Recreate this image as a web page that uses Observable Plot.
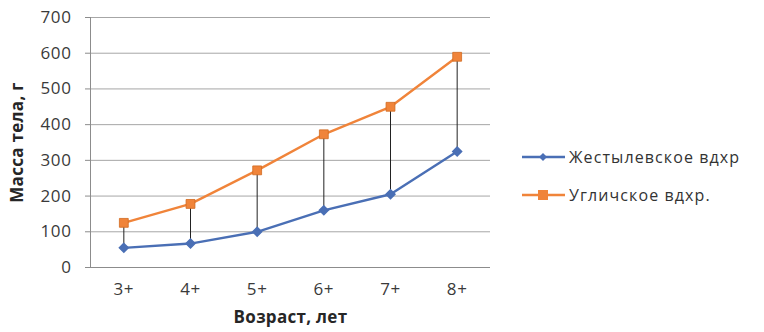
<!DOCTYPE html>
<html><head><meta charset="utf-8">
<script src="https://cdn.jsdelivr.net/npm/d3@7"></script>
<script src="https://cdn.jsdelivr.net/npm/@observablehq/plot@0.6"></script>
<style>
body{margin:0;background:#fff;}
#wrap{position:relative;width:764px;height:332px;font-family:"Open Sans",sans-serif;}
#wrap svg text{letter-spacing:0.6px;}
#wrap svg [aria-label$="axis label"] text, #wrap svg [aria-label$="axis label"]{font-weight:bold;fill:#262626;letter-spacing:0.3px;}
.leg{position:absolute;left:522px;display:flex;align-items:center;font-size:16px;letter-spacing:1.1px;color:#333;white-space:nowrap;}
.leg svg{margin-right:4px;}
</style></head><body><div id="wrap"></div>
<script>
const ages = ["3+","4+","5+","6+","7+","8+"];
const zhest = [55, 67, 100, 160, 205, 325];
const uglich = [125, 178, 272, 373, 450, 590];
const yTicks = [0,100,200,300,400,500,600,700];
const seriesNames = ["Жестылевское вдхр", "Угличское вдхр."];
const colors = ["#4A6FB5", "#F0843A"];

const idx = ages.map((_, i) => i);
const rowsZ = idx.map(i => ({i, v: zhest[i]}));
const rowsU = idx.map(i => ({i, v: uglich[i]}));
const pairs = idx.map(i => ({i, a: zhest[i], b: uglich[i]}));
const xDom = [-0.5, ages.length - 0.5];

const chart = Plot.plot({
  width: 764, height: 332,
  marginLeft: 90, marginRight: 274, marginTop: 17, marginBottom: 65,
  style: {fontFamily: "Open Sans, sans-serif", fontSize: "17px", color: "#3a3a3a", background: "#fff"},
  x: {domain: xDom},
  y: {domain: [0, 700]},
  marks: [
    Plot.gridY(yTicks, {stroke: "#a6a6a6", strokeOpacity: 1}),
    Plot.ruleX([xDom[0]], {y1: 0, y2: 700, stroke: "#8c8c8c"}),
    Plot.ruleY([0], {stroke: "#8c8c8c"}),
    Plot.axisY({ticks: yTicks, tickSize: 5, tickPadding: 14, stroke: "#8c8c8c", fill: "#3a3a3a", fontSize: 17,
      label: "Масса тела, г", labelAnchor: "center", labelOffset: 80, labelArrow: "none"}),
    Plot.axisX({ticks: idx, tickFormat: i => ages[i], tickSize: 0, tickPadding: 15, fill: "#3a3a3a", fontSize: 17,
      label: "Возраст, лет", labelAnchor: "center", labelOffset: 55, labelArrow: "none"}),
    Plot.ruleX(pairs, {x: "i", y1: "a", y2: "b", stroke: "#222", strokeWidth: 1}),
    Plot.lineY(rowsZ, {x: "i", y: "v", stroke: colors[0], strokeWidth: 2.4}),
    Plot.lineY(rowsU, {x: "i", y: "v", stroke: colors[1], strokeWidth: 2.4}),
    Plot.dot(rowsZ, {x: "i", y: "v", symbol: "diamond2", r: 4, fill: colors[0], stroke: colors[0]}),
    Plot.dot(rowsU, {x: "i", y: "v", symbol: "square", r: 5, fill: colors[1], stroke: "#d06a20", strokeWidth: 0.8})
  ]
});
const wrap = document.getElementById("wrap");
wrap.appendChild(chart);

function legendItem(name, color, sym, top) {
  const d = document.createElement("div");
  d.className = "leg";
  d.style.top = (top - 12) + "px";
  const marker = sym === "diamond"
    ? `<polygon points="21,1 25,5 21,9 17,5" fill="${color}"/>`
    : `<rect x="16" y="0" width="10" height="10" fill="${color}"/>`;
  d.innerHTML = `<svg width="43" height="10"><line x1="0" y1="5" x2="43" y2="5" stroke="${color}" stroke-width="2.4"/>${marker}</svg><span>${name}</span>`;
  wrap.appendChild(d);
}
legendItem(seriesNames[0], colors[0], "diamond", 158);
legendItem(seriesNames[1], colors[1], "square", 196);
</script></body></html>
